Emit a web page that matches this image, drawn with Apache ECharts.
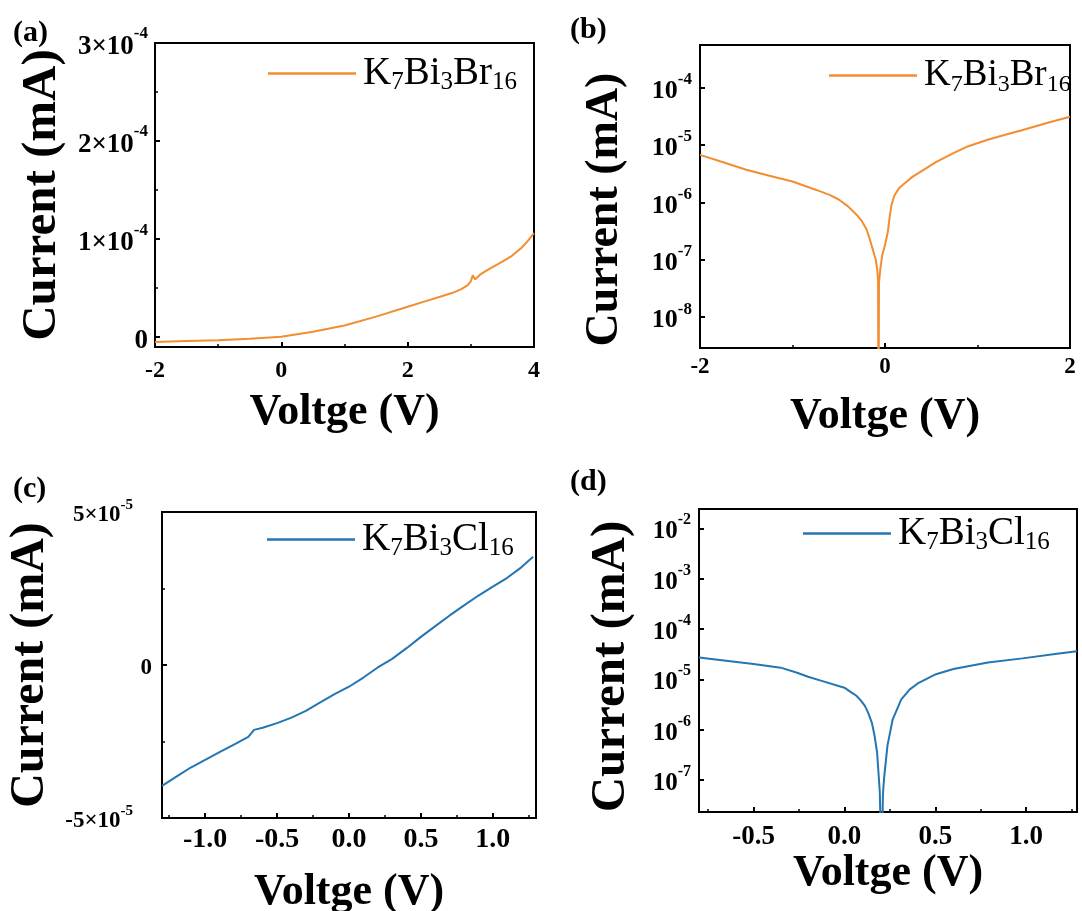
<!DOCTYPE html>
<html><head><meta charset="utf-8">
<script src="https://cdn.jsdelivr.net/npm/echarts@6/dist/echarts.min.js"></script>
<style>html,body{margin:0;padding:0;background:#fff}#c{width:1082px;height:911px}</style>
</head><body><div id="c"></div>
<script>
// ---- data ----
const brName = 'K7Bi3Br16';
const clName = 'K7Bi3Cl16';
const panelLabels = ['(a)', '(b)', '(c)', '(d)'];
const xTitle = 'Voltge (V)';
const yTitle = 'Current (mA)';

// (a) K7Bi3Br16 linear I-V
const brLinV = [-2, -1.5, -1, -0.5, 0, 0.5, 1, 1.5, 2, 2.3, 2.5, 2.7, 2.85, 2.95, 3.0, 3.03, 3.07, 3.15, 3.3, 3.5, 3.65, 3.8, 3.9, 4];
const brLinI = [-0.5e-5, -0.4e-5, -0.3e-5, -0.15e-5, 0.05e-5, 0.55e-5, 1.2e-5, 2.1e-5, 3.1e-5, 3.7e-5, 4.1e-5, 4.5e-5, 4.9e-5, 5.3e-5, 5.7e-5, 6.3e-5, 5.9e-5, 6.4e-5, 7.0e-5, 7.7e-5, 8.3e-5, 9.1e-5, 9.8e-5, 10.6e-5];

// (b) K7Bi3Br16 log |I|-V
const brLogV = [-2, -1.75, -1.5, -1.25, -1, -0.75, -0.6, -0.5, -0.4, -0.3, -0.25, -0.2, -0.165, -0.12, -0.1, -0.085, -0.075, -0.07, -0.065, -0.05, -0.03, 0.0, 0.03, 0.05, 0.07, 0.1, 0.15, 0.22, 0.3, 0.37, 0.55, 0.74, 0.9, 1.11, 1.3, 1.48, 1.75, 2.0];
const brLogI = [6.7e-6, 5.0e-6, 3.7e-6, 2.9e-6, 2.3e-6, 1.66e-6, 1.35e-6, 1.12e-6, 8.5e-7, 5.9e-7, 4.7e-7, 3.4e-7, 2.3e-7, 1.3e-7, 1.0e-7, 7e-8, 4.3e-8, 1e-10, 4e-8, 7e-8, 1.2e-7, 1.8e-7, 3e-7, 5.5e-7, 9e-7, 1.3e-6, 1.75e-6, 2.2e-6, 2.8e-6, 3.3e-6, 5.0e-6, 7.2e-6, 9.5e-6, 1.23e-5, 1.5e-5, 1.8e-5, 2.4e-5, 3.1e-5];

// (c) K7Bi3Cl16 linear I-V
const clLinV = [-1.3, -1.2, -1.1, -1.0, -0.9, -0.8, -0.7, -0.66, -0.6, -0.5, -0.4, -0.3, -0.2, -0.1, 0, 0.1, 0.2, 0.3, 0.4, 0.5, 0.6, 0.7, 0.8, 0.9, 1.0, 1.1, 1.2, 1.28];
const clLinI = [-3.95e-5, -3.65e-5, -3.35e-5, -3.1e-5, -2.85e-5, -2.6e-5, -2.35e-5, -2.12e-5, -2.05e-5, -1.9e-5, -1.72e-5, -1.5e-5, -1.22e-5, -0.95e-5, -0.71e-5, -0.41e-5, -0.08e-5, 0.2e-5, 0.55e-5, 0.92e-5, 1.27e-5, 1.62e-5, 1.95e-5, 2.27e-5, 2.56e-5, 2.85e-5, 3.2e-5, 3.54e-5];

// (d) K7Bi3Cl16 log |I|-V
const clLogV = [-0.8, -0.64, -0.5, -0.35, -0.26, -0.2, -0.125, 0, 0.03, 0.066, 0.09, 0.113, 0.13, 0.151, 0.165, 0.18, 0.195, 0.205, 0.212, 0.218, 0.237, 0.266, 0.313, 0.36, 0.409, 0.504, 0.6, 0.79, 0.98, 1.17, 1.28];
const clLogI = [2.7e-5, 2.3e-5, 2.0e-5, 1.7e-5, 1.35e-5, 1.12e-5, 9.3e-6, 6.8e-6, 5.75e-6, 4.7e-6, 3.8e-6, 2.95e-6, 2.2e-6, 1.38e-6, 7.9e-7, 3.5e-7, 5.6e-8, 1e-9, 5e-8, 1.05e-7, 4.8e-7, 1.6e-6, 4e-6, 6.3e-6, 8.5e-6, 1.26e-5, 1.6e-5, 2.15e-5, 2.6e-5, 3.2e-5, 3.6e-5];

// ---- styles ----
const FONT = '"Liberation Serif", "Times New Roman", serif';
const ORANGE = '#F28D30';
const BLUE = '#2376B2';
const zip = (a, b) => a.map((v, i) => [v, b[i]]);

const richTick = size => ({
  b: { fontSize: size, fontWeight: 'bold', fontFamily: FONT, color: '#000', lineHeight: Math.round(size * 1.28), verticalAlign: 'bottom' },
  p: { fontSize: Math.round(size * 0.64), fontWeight: 'bold', fontFamily: FONT, color: '#000', lineHeight: Math.round(size * 0.64), verticalAlign: 'top' },
  sp: { fontSize: 8, width: 19, lineHeight: 8 }
});
const richX = size => ({
  b: { fontSize: size, fontWeight: 'bold', fontFamily: FONT, color: '#000', lineHeight: size }
});
const near = (v, step) => Math.abs(v / step - Math.round(v / step)) < 1e-6;
const linFmt = (step, mant, exp, tail) => v => {
  if (!near(v, step)) return '';
  const k = Math.round(v / step) * mant;
  if (k === 0) return '{b|0}';
  return '{b|' + k + '×10}{p|' + exp + '}' + (tail ? '{sp| }' : '');
};
const logFmt = v => {
  const e = Math.log10(v), k = Math.round(e);
  if (Math.abs(e - k) > 1e-6) return '';
  return '{b|10}{p|' + k + '}';
};
const xFmt = (step, dec) => v => near(v, step) ? '{b|' + (Math.abs(v) < 1e-9 ? 0 : v).toFixed(dec) + '}' : '';

function xAxis(gi, min, max, fmt, size, margin, nameGap, opts) {
  return Object.assign({
    type: 'value', gridIndex: gi, min: min, max: max,
    name: xTitle, nameLocation: 'middle', nameGap: nameGap,
    nameTextStyle: { fontSize: 44, fontWeight: 'bold', fontFamily: FONT, color: '#000' },
    axisLine: { onZero: false, lineStyle: { color: '#000', width: 2 } },
    axisTick: { inside: true, length: 5, lineStyle: { color: '#000', width: 2 } },
    minorTick: { show: true, splitNumber: 2, length: 3, lineStyle: { color: '#000', width: 1.5 } },
    splitLine: { show: false },
    axisLabel: { margin: margin, formatter: fmt, rich: richX(size), hideOverlap: false }
  }, opts || {});
}
function yAxis(gi, type, min, max, fmt, size, margin, nameGap, nameSize, namePad, opts) {
  return Object.assign({
    type: type, gridIndex: gi, min: min, max: max,
    name: yTitle, nameLocation: 'middle', nameRotate: 90, nameGap: nameGap,
    nameTextStyle: { fontSize: nameSize, fontWeight: 'bold', fontFamily: FONT, color: '#000', padding: namePad },
    axisLine: { onZero: false, lineStyle: { color: '#000', width: 2 } },
    axisTick: { inside: true, length: 5, lineStyle: { color: '#000', width: 2 } },
    minorTick: { show: type === 'value', splitNumber: 2, length: 3, lineStyle: { color: '#000', width: 1.5 } },
    splitLine: { show: false },
    axisLabel: { margin: margin, formatter: fmt, rich: richTick(size), hideOverlap: false }
  }, opts || {});
}
const legendFmt = name => '{g| }' + name.split(/(\d+)/).filter(Boolean)
  .map(t => /^\d+$/.test(t) ? '{s|' + t + '}' : '{n|' + t + '}').join('');
function legend(name, left, top, size) {
  const sub = Math.round(size * 0.64);
  return {
    data: [name], left: left, top: top, padding: 0, itemWidth: 88, itemHeight: 14, itemGap: 0,
    icon: 'path://M0 0H100V3H0Z',
    selectedMode: false, formatter: legendFmt,
    textStyle: {
      fontFamily: FONT, color: '#000',
      rich: {
        g: { fontSize: 8, fontFamily: FONT, lineHeight: 8 },
        n: { fontSize: size, fontFamily: FONT, color: '#000', lineHeight: 42 },
        s: { fontSize: sub, fontFamily: FONT, color: '#000', lineHeight: sub, verticalAlign: 'bottom' }
      }
    }
  };
}
const gridBox = (l, t, w, h) => ({ left: l, top: t, width: w, height: h, show: true, borderColor: '#000', borderWidth: 2, containLabel: false, outerBoundsMode: 'none' });
const lineSeries = (name, gi, data, color) => ({
  type: 'line', name: name, xAxisIndex: gi, yAxisIndex: gi, data: data,
  showSymbol: false, symbol: 'none', clip: true, smooth: false,
  lineStyle: { color: color, width: 2 }, itemStyle: { color: color }
});
const panelText = (i, x, y) => ({
  type: 'text', left: x, top: y,
  style: { text: panelLabels[i], font: 'bold 30px ' + FONT, fill: '#000' }
});

const option = {
  animation: false,
  backgroundColor: '#fff',
  grid: [gridBox(155, 43, 379, 304), gridBox(700, 45, 370, 303), gridBox(162, 512, 374, 306), gridBox(699, 509, 378, 303)],
  xAxis: [
    xAxis(0, -2, 4, xFmt(2, 0), 24, 12, 44, { interval: 2 }),
    xAxis(1, -2, 2, xFmt(2, 0), 23, 8, 47, { interval: 2 }),
    xAxis(2, -1.3, 1.3, xFmt(0.5, 1), 28, 8, 53, { minInterval: 0.5, maxInterval: 0.5 }),
    xAxis(3, -0.8, 1.28, xFmt(0.5, 1), 27, 12, 38, { minInterval: 0.5, maxInterval: 0.5 })
  ],
  yAxis: [
    yAxis(0, 'value', -1e-5, 3e-4, linFmt(1e-4, 1, -4, false), 27, 7, 88, 49, [0, 0, 0, 0], { minInterval: 1e-4, maxInterval: 1e-4 }),
    yAxis(1, 'log', 2.9e-9, 5.5e-4, logFmt, 26, 8, 72, 46, [0, 26, 0, 0], { logBase: 10 }),
    yAxis(2, 'value', -5e-5, 5e-5, linFmt(5e-5, 5, -5, true), 23, 10, 107, 48, [0, 0, 0, 0], { interval: 5e-5 }),
    yAxis(3, 'log', 2.3e-8, 2.42e-2, logFmt, 25, 8, 63, 49, [0, 12, 0, 0], { logBase: 10 })
  ],
  legend: [legend(brName, 268, 54, 39), legend(brName, 829, 57, 37), legend(clName, 267, 520, 39), legend(clName, 803, 514, 39)],
  series: [
    lineSeries(brName, 0, zip(brLinV, brLinI), ORANGE),
    lineSeries(brName, 1, zip(brLogV, brLogI), ORANGE),
    lineSeries(clName, 2, zip(clLinV, clLinI), BLUE),
    lineSeries(clName, 3, zip(clLogV, clLogI), BLUE)
  ],
  graphic: [panelText(0, 13, 18), panelText(1, 570, 15), panelText(2, 13, 474), panelText(3, 570, 467)]
};
const chart = echarts.init(document.getElementById('c'), null, { renderer: 'canvas' });
chart.setOption(option);
</script>
</body></html>
